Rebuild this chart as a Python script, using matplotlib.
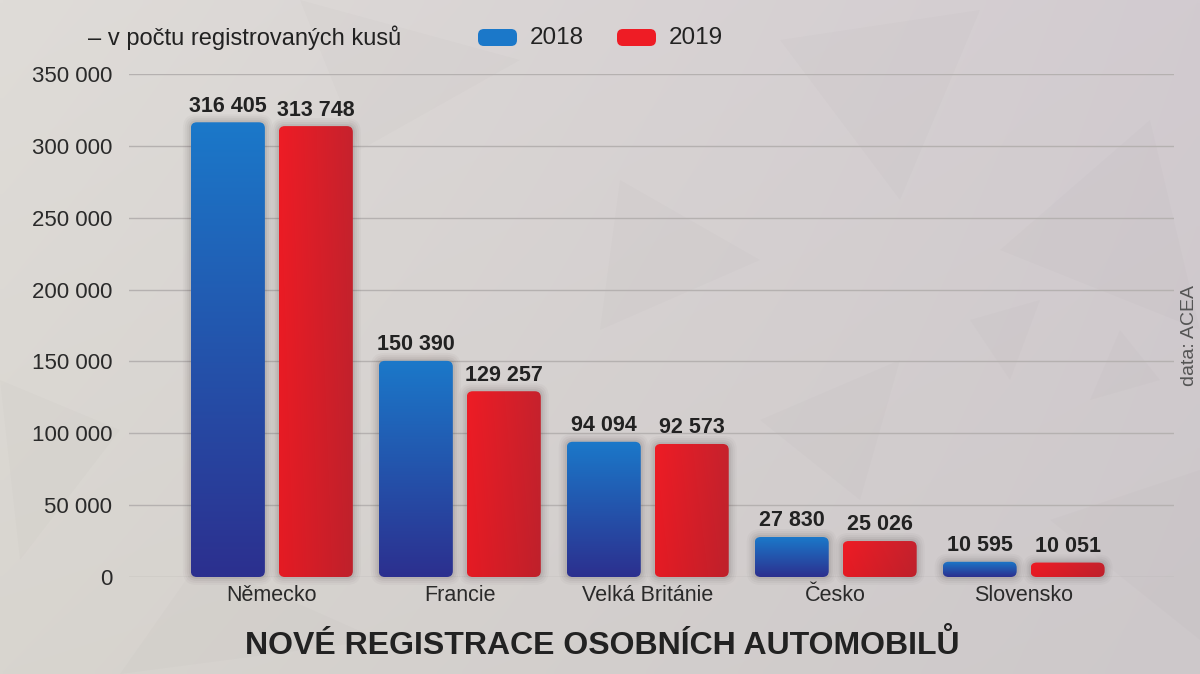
import numpy as np
import matplotlib
matplotlib.use("Agg")
import matplotlib.pyplot as plt
from matplotlib.patches import FancyBboxPatch, Polygon
from matplotlib.ticker import FuncFormatter
from matplotlib import font_manager

# data
countries = ["Německo", "Francie", "Velká Británie", "Česko", "Slovensko"]
reg_2018 = [316405, 150390, 94094, 27830, 10595]
reg_2019 = [313748, 129257, 92573, 25026, 10051]
years = ["2018", "2019"]
y_ticks = [0, 50000, 100000, 150000, 200000, 250000, 300000, 350000]

title = "NOVÉ REGISTRACE OSOBNÍCH AUTOMOBILŮ"
subtitle = "– v počtu registrovaných kusů"
source = "data: ACEA"


def has_font(name):
    try:
        font_manager.findfont(font_manager.FontProperties(family=name),
                              fallback_to_default=False)
        return True
    except ValueError:
        return False


base_font = "Liberation Sans" if has_font("Liberation Sans") else "DejaVu Sans"
title_font = "Liberation Sans Narrow" if has_font("Liberation Sans Narrow") else base_font
plt.rcParams["font.family"] = [base_font, "DejaVu Sans"]

txt_col = "#222222"
blue_top, blue_bot = np.array([0x1b, 0x78, 0xc9]) / 255, np.array([0x2c, 0x30, 0x8f]) / 255
red_left, red_right = np.array([0xee, 0x1c, 0x25]) / 255, np.array([0xc6, 0x22, 0x2d]) / 255

fig = plt.figure(figsize=(12, 6.74), dpi=100)

# background (pixel coords)
bg = fig.add_axes([0, 0, 1, 1], zorder=0)
bg.set_xlim(0, 1200)
bg.set_ylim(674, 0)
bg.set_axis_off()
c_tl = np.array([0xdf, 0xdc, 0xd8]) / 255
c_tr = np.array([0xd2, 0xcb, 0xd0]) / 255
c_bl = np.array([0xd8, 0xd5, 0xcf]) / 255
c_br = np.array([0xcd, 0xc8, 0xca]) / 255
u = np.linspace(0, 1, 200)[None, :, None]
v = np.linspace(0, 1, 120)[:, None, None]
grad = (1 - v) * ((1 - u) * c_tl + u * c_tr) + v * ((1 - u) * c_bl + u * c_br)
bg.imshow(grad, extent=(0, 1200, 674, 0), origin="upper", aspect="auto",
          interpolation="bilinear")
tris = [[(300, 0), (520, 60), (360, 150)], [(780, 40), (980, 10), (900, 200)],
        [(1000, 250), (1150, 120), (1200, 330)], [(970, 320), (1040, 300), (1010, 380)],
        [(1120, 330), (1160, 380), (1090, 400)], [(620, 180), (760, 260), (600, 330)],
        [(0, 380), (120, 430), (20, 560)], [(760, 420), (900, 360), (860, 500)],
        [(200, 560), (380, 640), (120, 674)], [(1050, 520), (1200, 470), (1200, 640)]]
for t in tris:
    bg.add_patch(Polygon(t, closed=True, color="#6a5f6a", alpha=0.022, lw=0))

# main axes
ax = fig.add_axes([129 / 1200, 1 - 577 / 674, (1174 - 129) / 1200, (577 - 74) / 674], zorder=1)
ax.set_facecolor("none")
x = np.arange(len(countries))
w = 0.394
off = 0.234
bars18 = ax.bar(x - off, reg_2018, w)
bars19 = ax.bar(x + off, reg_2019, w)
ax.set_xlim(-0.76, 4.8)
ax.set_ylim(0, 350000)
ax.set_yticks(y_ticks)
ax.yaxis.set_major_formatter(FuncFormatter(lambda val, p: f"{int(val):,}".replace(",", " ")))
ax.set_xticks(x, countries)
ax.tick_params(axis="both", length=0, colors="#2a2a2a")
ax.tick_params(axis="y", labelsize=16, pad=12)
ax.tick_params(axis="x", labelsize=15.5, pad=6)
for s in ax.spines.values():
    s.set_visible(False)
ax.yaxis.grid(True, color="#b5b1b0", lw=1)
ax.set_axisbelow(True)

# px -> data conversion for rounded corners
fig.canvas.draw()
(px0, py0), (px1, py1) = ax.transData.transform([(0, 0), (1, 100000)])
x_per_px = 1 / (px1 - px0)
y_per_px = 100000 / (py1 - py0)
aspect = y_per_px / x_per_px
rad = 6 * x_per_px


def fancy_bar(rect, kind):
    x0, y0 = rect.get_x(), rect.get_y()
    bw, bh = rect.get_width(), rect.get_height()
    rect.set_visible(False)
    # soft shadow
    for k, a in [(8, 0.03), (6, 0.04), (4, 0.05), (2, 0.07)]:
        ax.add_patch(FancyBboxPatch((x0, y0), bw, bh,
                                    boxstyle=f"round,pad={k * x_per_px},rounding_size={rad + k * x_per_px}",
                                    mutation_aspect=aspect, fc="#3a3030", ec="none",
                                    alpha=a, zorder=2, clip_on=False))
    clip = FancyBboxPatch((x0, y0), bw, bh, boxstyle=f"round,pad=0,rounding_size={rad}",
                          mutation_aspect=aspect, fc="none", ec="none", zorder=3)
    ax.add_patch(clip)
    if kind == 0:
        t = np.linspace(0, 1, 64)[:, None, None]
        img = (1 - t) * blue_top + t * blue_bot
    else:
        t = np.linspace(0, 1, 64)[None, :, None]
        img = (1 - t) * red_left + t * red_right
        tv = np.linspace(0, 1, 64)[:, None, None]
        img = img * (1 - 0.04 * tv)
    im = ax.imshow(img, extent=(x0, x0 + bw, y0, y0 + bh), origin="upper",
                   aspect="auto", interpolation="bilinear", zorder=3)
    im.set_clip_path(clip)


for r in bars18:
    fancy_bar(r, 0)
for r in bars19:
    fancy_bar(r, 1)
ax.set_xlim(-0.76, 4.8)
ax.set_ylim(0, 350000)

for xs, vals in [(x - off, reg_2018), (x + off, reg_2019)]:
    for xi, val in zip(xs, vals):
        ax.annotate(f"{val:,}".replace(",", " "), (xi, val), xytext=(0, 4),
                    textcoords="offset points", ha="center", va="bottom",
                    fontsize=15.5, fontweight="bold", color=txt_col, zorder=5,
                    annotation_clip=False)

# header: subtitle + legend
fig.text(88 / 1200, 1 - 38 / 674, subtitle, fontsize=17, color=txt_col, va="center", ha="left")
for (lx, col, lab) in [(478, blue_top, years[0]), (617, red_left, years[1])]:
    bg.add_patch(FancyBboxPatch((lx, 29), 39, 17, boxstyle="round,pad=0,rounding_size=6",
                                fc=col, ec="none"))
    bg.text(lx + 52, 38, lab, fontsize=17.5, color=txt_col, va="center", ha="left")

fig.text(602 / 1200, 1 - 645 / 674, title, fontsize=27 if title_font != base_font else 23,
         fontweight="bold", color=txt_col, ha="center", va="center",
         family=[title_font, "DejaVu Sans"])
fig.text(1190 / 1200, 1 - 335 / 674, source, rotation=90, fontsize=14, color="#555555",
         ha="center", va="center")

fig.savefig("out.png", dpi=100)
